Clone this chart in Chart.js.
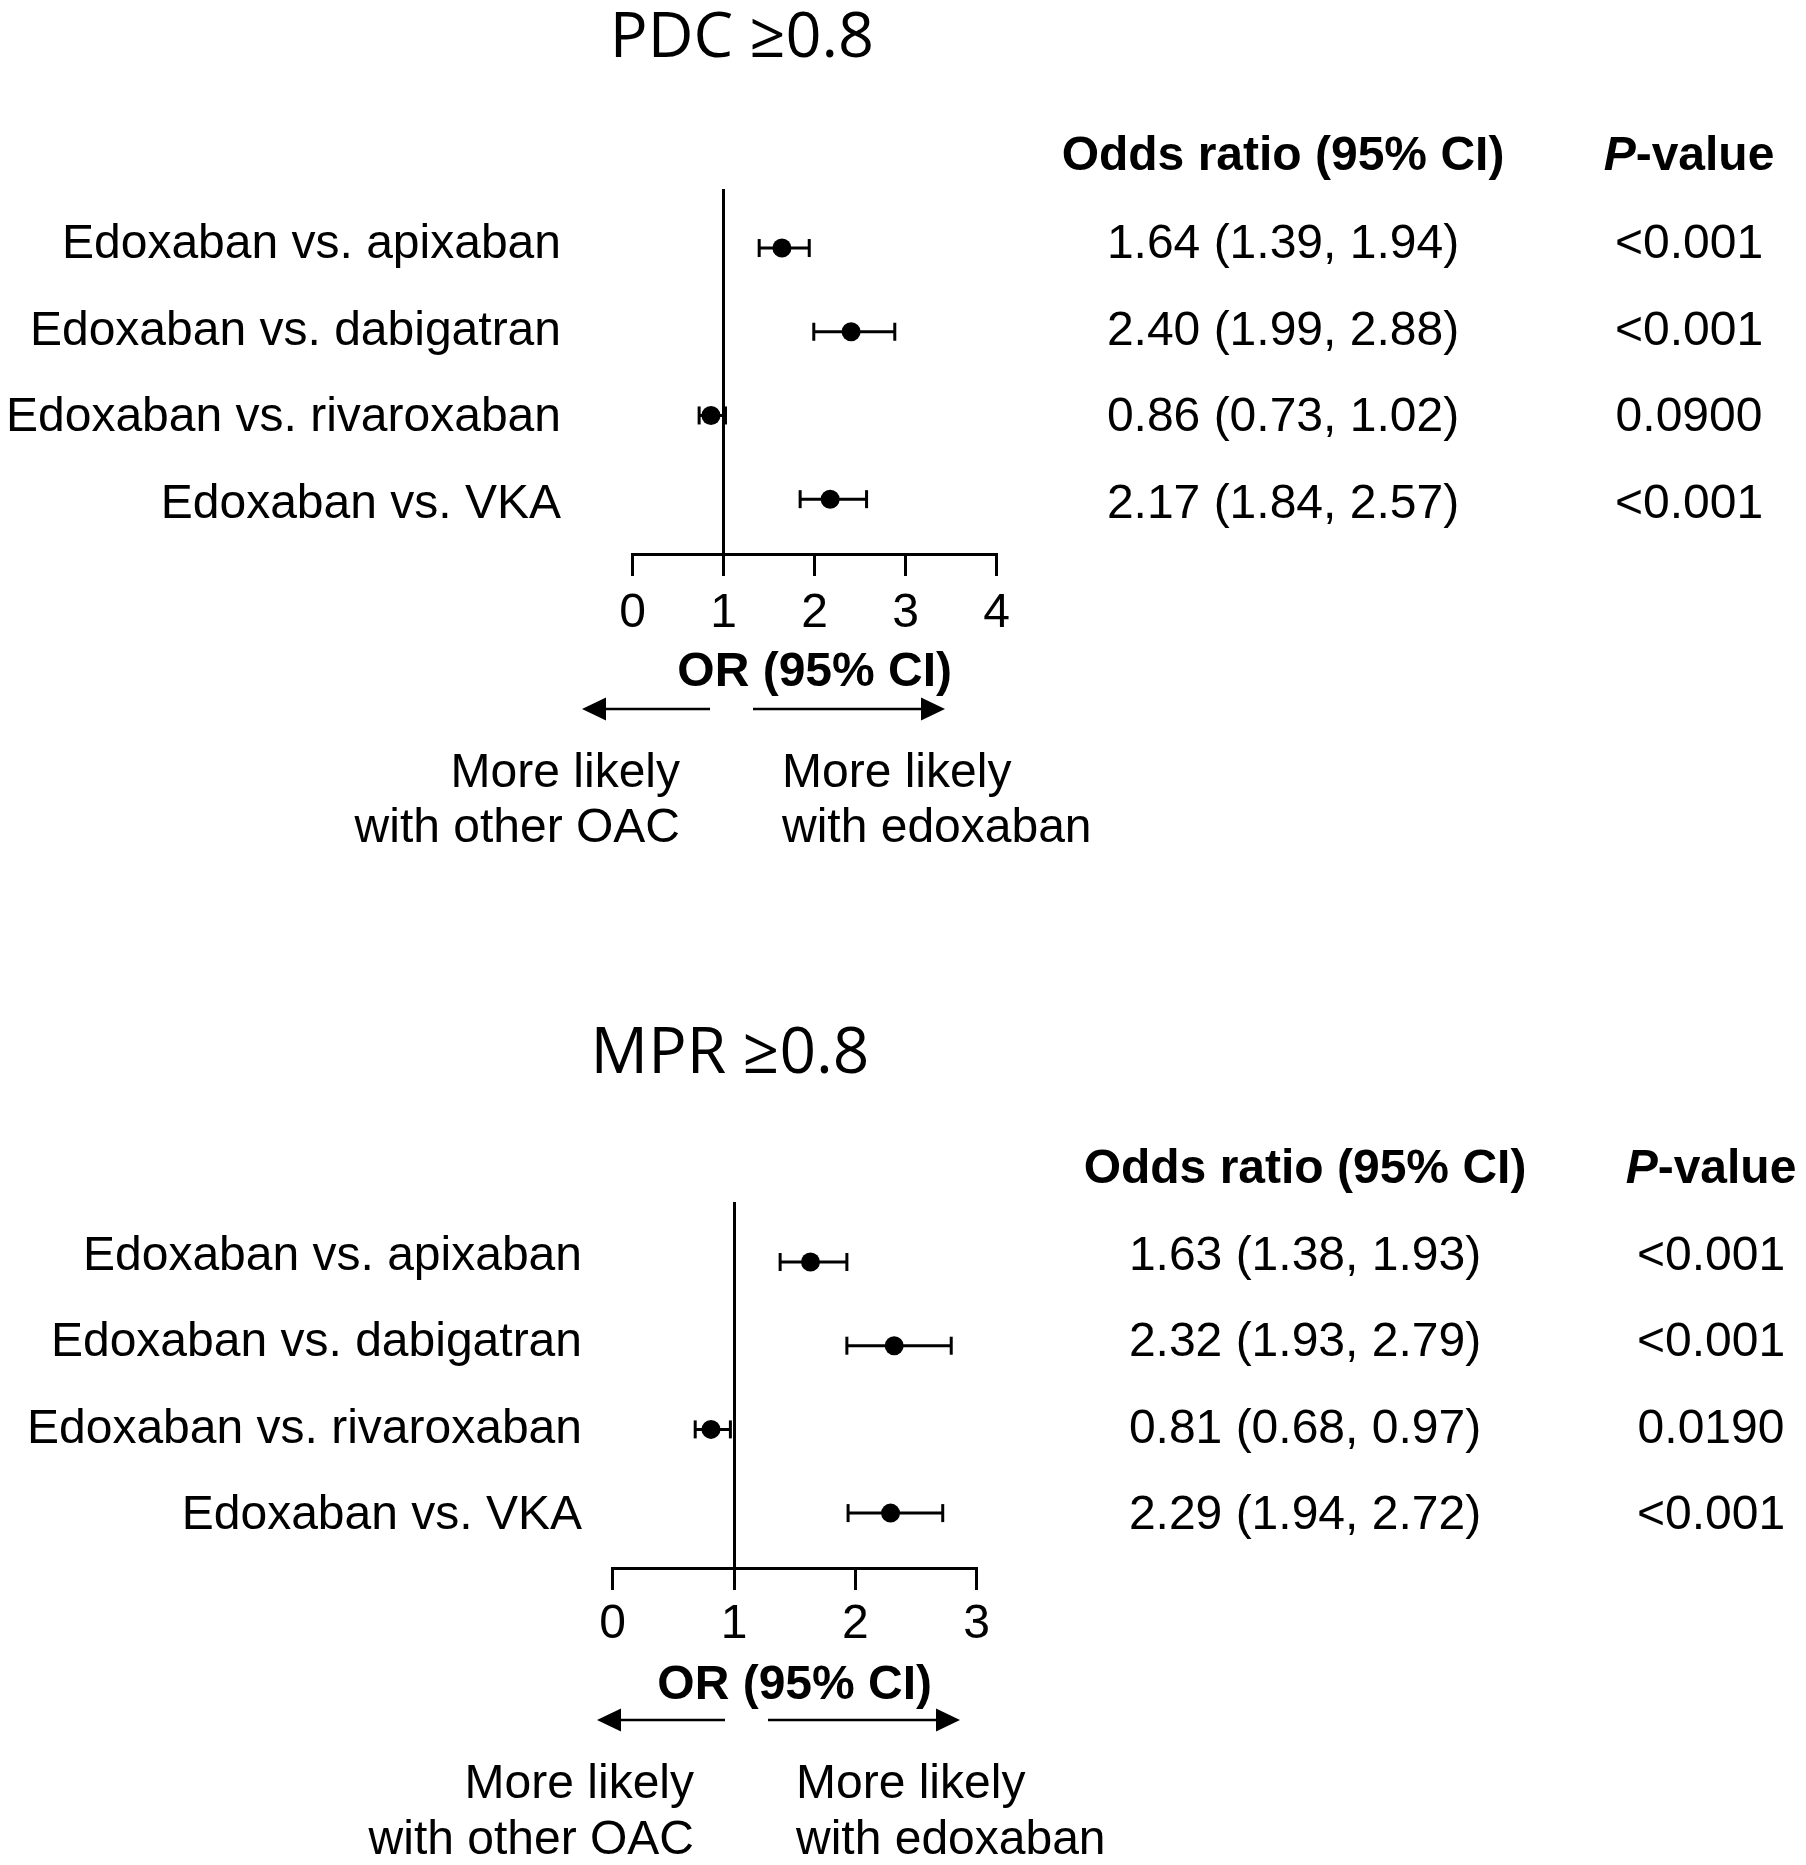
<!DOCTYPE html>
<html>
<head>
<meta charset="utf-8">
<script src="https://cdn.jsdelivr.net/npm/chart.js@4.4.1/dist/chart.umd.min.js"></script>
<style>
  body { margin: 0; background: #fff; }
  #wrap { position: relative; width: 1806px; height: 1865px; background: #fff; }
  canvas { position: absolute; left: 0; }
  #pdc { top: 0; }
  #mpr { top: 930px; }
</style>
</head>
<body>
<div id="wrap">
  <canvas id="pdc" width="1806" height="930"></canvas>
  <canvas id="mpr" width="1806" height="935"></canvas>
</div>
<script>
// data
var rows = ['Edoxaban vs. apixaban', 'Edoxaban vs. dabigatran', 'Edoxaban vs. rivaroxaban', 'Edoxaban vs. VKA'];

var pdcOR   = [1.64, 2.40, 0.86, 2.17];
var pdcLow  = [1.39, 1.99, 0.73, 1.84];
var pdcHigh = [1.94, 2.88, 1.02, 2.57];
var pdcP    = ['<0.001', '<0.001', '0.0900', '<0.001'];
var pdcTicks = [0, 1, 2, 3, 4];

var mprOR   = [1.63, 2.32, 0.81, 2.29];
var mprLow  = [1.38, 1.93, 0.68, 1.94];
var mprHigh = [1.93, 2.79, 0.97, 2.72];
var mprP    = ['<0.001', '<0.001', '0.0190', '<0.001'];
var mprTicks = [0, 1, 2, 3];

Chart.defaults.font.family = '"Liberation Sans", Arial, sans-serif';
Chart.defaults.color = '#000';

var FONT = '"Liberation Sans", Arial, sans-serif';
var AXIS_H = 150;

var arrow = function(ctx, x0, x1, y) {
    var dir = x1 > x0 ? 1 : -1, head = 24, half = 11.5;
    ctx.beginPath();
    ctx.moveTo(x0, y);
    ctx.lineTo(x1 - dir * head, y);
    ctx.stroke();
    ctx.beginPath();
    ctx.moveTo(x1, y);
    ctx.lineTo(x1 - dir * head, y - half);
    ctx.lineTo(x1 - dir * head, y + half);
    ctx.closePath();
    ctx.fill();
};

var makePanel = function(id, d, L) {
    var canvas = document.getElementById(id),
        W = canvas.width,
        H = canvas.height;

    var datasets = [{
        data: d.or.map(function(v, i) { return {x: v, y: i}; }),
        pointRadius: 9.5,
        pointHoverRadius: 9.5,
        pointBackgroundColor: '#000',
        pointBorderColor: '#000',
        pointBorderWidth: 0,
        clip: false
    }].concat(rows.map(function(row, i) {
        return {
            data: [{x: d.low[i], y: i}, {x: d.high[i], y: i}],
            showLine: true,
            borderColor: '#000',
            borderWidth: 3,
            pointStyle: 'line',
            pointRotation: 90,
            pointRadius: 9,
            pointHoverRadius: 9,
            pointBorderWidth: 3,
            pointBorderColor: '#000',
            clip: false
        };
    }));

    var textPlugin = {
        id: 'panelText',
        afterDraw: function(chart) {
            var ctx = chart.ctx;
            ctx.save();
            ctx.fillStyle = '#000';
            ctx.strokeStyle = '#000';
            ctx.textBaseline = 'alphabetic';

            ctx.font = L.titleSize + 'px "Open Sans", sans-serif';
            ctx.textAlign = 'center';
            ctx.fillText(d.title, L.titleX, L.titleY);

            ctx.font = 'bold 48px ' + FONT;
            ctx.fillText('Odds ratio (95% CI)', L.orX, L.headY);
            ctx.font = 'italic bold 48px ' + FONT;
            var w1 = ctx.measureText('P').width;
            ctx.font = 'bold 48px ' + FONT;
            var w2 = ctx.measureText('-value').width,
                sx = L.pX - (w1 + w2) / 2;
            ctx.textAlign = 'left';
            ctx.font = 'italic bold 48px ' + FONT;
            ctx.fillText('P', sx, L.headY);
            ctx.font = 'bold 48px ' + FONT;
            ctx.fillText('-value', sx + w1, L.headY);

            ctx.font = '48px ' + FONT;
            rows.forEach(function(row, i) {
                var yy = L.rowY + i * L.rowStep + 17;
                ctx.textAlign = 'right';
                ctx.fillText(row, L.labelX, yy);
                ctx.textAlign = 'center';
                ctx.fillText(d.or[i].toFixed(2) + ' (' + d.low[i].toFixed(2) + ', ' + d.high[i].toFixed(2) + ')', L.orX, yy);
                ctx.fillText(d.p[i], L.pX, yy);
            });

            ctx.lineWidth = 2.5;
            arrow(ctx, L.arrowL[1], L.arrowL[0], L.arrowY);
            arrow(ctx, L.arrowR[0], L.arrowR[1], L.arrowY);

            ctx.textAlign = 'right';
            ctx.fillText('More likely', L.noteL, L.noteY1);
            ctx.fillText('with other OAC', L.noteL, L.noteY2);
            ctx.textAlign = 'left';
            ctx.fillText('More likely', L.noteR, L.noteY1);
            ctx.fillText('with edoxaban', L.noteR, L.noteY2);
            ctx.restore();
        }
    };

    return new Chart(canvas, {
        type: 'scatter',
        data: {datasets: datasets},
        options: {
            responsive: false,
            animation: false,
            events: [],
            layout: {
                padding: {
                    left: L.area.left,
                    right: W - L.area.right,
                    top: L.area.top,
                    bottom: H - L.area.bottom - AXIS_H
                }
            },
            plugins: {
                legend: {display: false},
                tooltip: {enabled: false}
            },
            scales: {
                x: {
                    type: 'linear',
                    position: 'bottom',
                    min: d.ticks[0],
                    max: d.ticks[d.ticks.length - 1],
                    afterBuildTicks: function(s) {
                        s.ticks = d.ticks.map(function(v) { return {value: v}; });
                    },
                    ticks: {
                        color: '#000',
                        font: {size: 48},
                        padding: L.tickPad,
                        maxRotation: 0
                    },
                    grid: {
                        drawOnChartArea: false,
                        drawTicks: true,
                        tickLength: 22,
                        tickWidth: 3,
                        tickColor: '#000',
                        lineWidth: 3,
                        color: '#000'
                    },
                    border: {display: true, color: '#000', width: 3},
                    title: {
                        display: true,
                        text: 'OR (95% CI)',
                        color: '#000',
                        font: {size: 48, weight: 'bold'},
                        padding: {top: 0, bottom: L.titlePad}
                    },
                    afterFit: function(s) { s.height = AXIS_H; }
                },
                y: {
                    type: 'linear',
                    position: {x: 1},
                    reverse: true,
                    min: L.yMin,
                    max: L.yMax,
                    ticks: {display: false},
                    grid: {display: true, drawOnChartArea: false, drawTicks: false},
                    border: {display: true, color: '#000', width: 3},
                    afterFit: function(s) { s.width = 0; }
                }
            }
        },
        plugins: [textPlugin]
    });
};

makePanel('pdc', {
    title: 'PDC \u22650.8', or: pdcOR, low: pdcLow, high: pdcHigh, p: pdcP, ticks: pdcTicks
}, {
    area: {left: 632.7, right: 996.7, top: 190.7, bottom: 554},
    yMin: -0.685, yMax: 3.655,
    tickPad: 9, titlePad: 2,
    titleX: 742, titleY: 57, titleSize: 63,
    headY: 170, labelX: 561, orX: 1283, pX: 1689,
    rowY: 241, rowStep: 86.7,
    arrowY: 709, arrowL: [582, 710], arrowR: [753, 945],
    noteL: 680, noteR: 782, noteY1: 787, noteY2: 842
});

makePanel('mpr', {
    title: 'MPR \u22650.8', or: mprOR, low: mprLow, high: mprHigh, p: mprP, ticks: mprTicks
}, {
    area: {left: 612.7, right: 976.7, top: 273, bottom: 638},
    yMin: -0.705, yMax: 3.656,
    tickPad: 6, titlePad: 3,
    titleX: 730, titleY: 143, titleSize: 64,
    headY: 253, labelX: 582, orX: 1305, pX: 1711,
    rowY: 323, rowStep: 86.4,
    arrowY: 790, arrowL: [597, 725], arrowR: [768, 960],
    noteL: 694, noteR: 796, noteY1: 868, noteY2: 924
});
</script>
</body>
</html>
